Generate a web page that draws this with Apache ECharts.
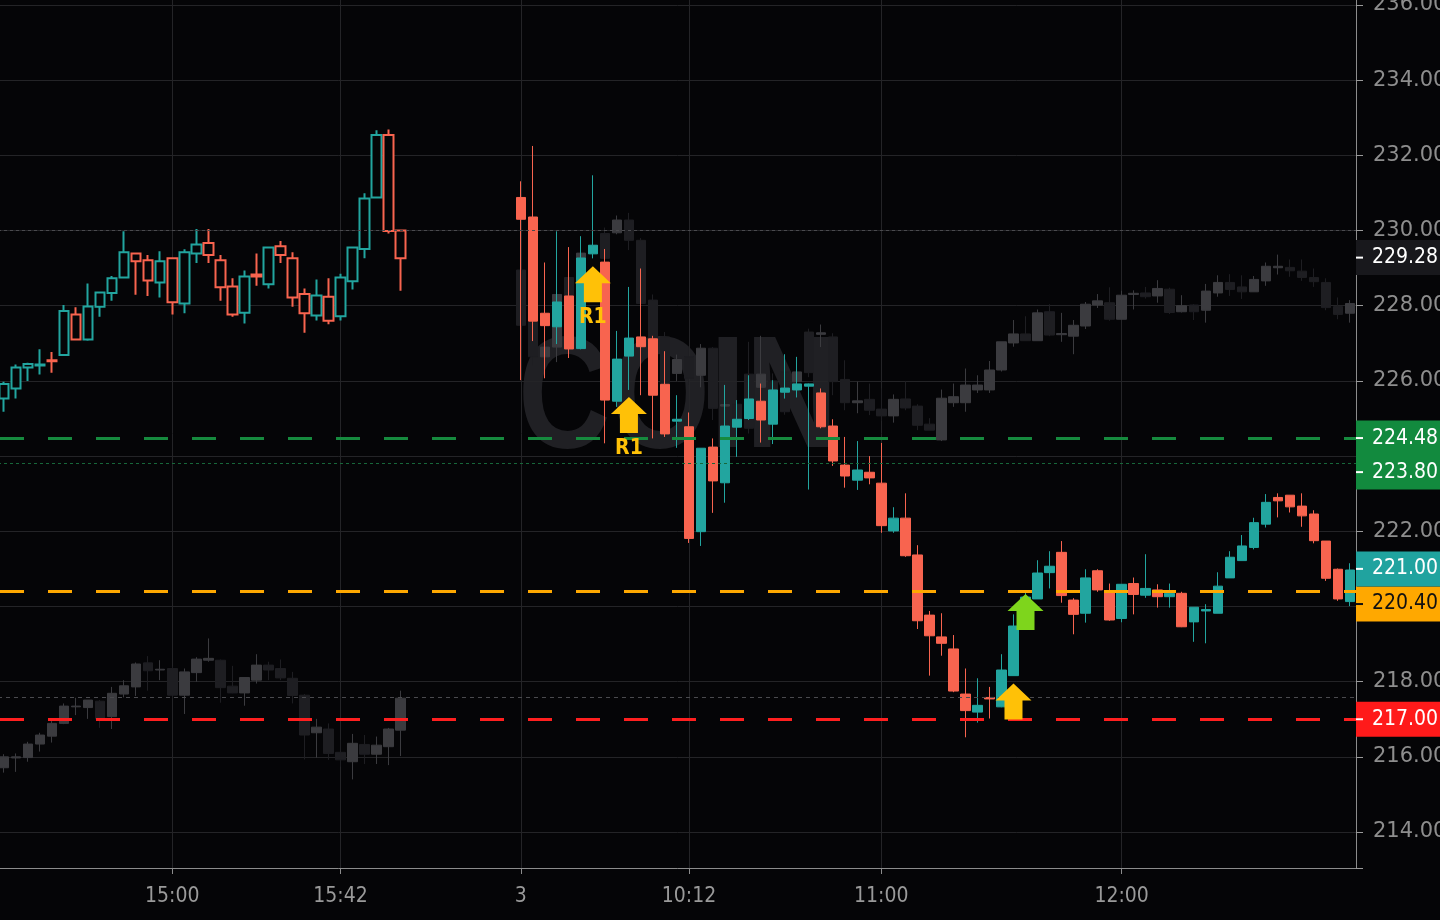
<!DOCTYPE html>
<html><head><meta charset="utf-8">
<script src="https://cdn.jsdelivr.net/npm/echarts@6/dist/echarts.min.js"></script>
<style>html,body{margin:0;padding:0;background:#050507;}#c{width:1440px;height:920px;}</style>
</head><body><div id="c"></div><script>
// ---------- categories (3-minute bars) ----------
const prevDayTimes = ['14:18','14:21','14:24','14:27','14:30','14:33','14:36','14:39','14:42','14:45','14:48','14:51','14:54','14:57',
 '15:00','15:03','15:06','15:09','15:12','15:15','15:18','15:21','15:24','15:27','15:30','15:33','15:36','15:39','15:42','15:45','15:48','15:51','15:54','15:57'];
const gapTimes = ['16:00','16:03','16:06','16:09','16:12','16:15','16:18','16:21','16:24'];
const day3Times = ['09:30','09:33','09:36','09:39','09:42','09:45','09:48','09:51','09:54','09:57',
 '10:00','10:03','10:06','10:09','10:12','10:15','10:18','10:21','10:24','10:27','10:30','10:33','10:36','10:39','10:42','10:45','10:48','10:51','10:54','10:57',
 '11:00','11:03','11:06','11:09','11:12','11:15','11:18','11:21','11:24','11:27','11:30','11:33','11:36','11:39','11:42','11:45','11:48','11:51','11:54','11:57',
 '12:00','12:03','12:06','12:09','12:12','12:15','12:18','12:21','12:24','12:27','12:30','12:33','12:36','12:39','12:42','12:45','12:48','12:51','12:54','12:57'];
const tickLabels = {'15:00':'15:00','15:42':'15:42','09:30':'3','10:12':'10:12','11:00':'11:00','12:00':'12:00'};

// ---------- main symbol candles [open, close, low, high] ----------
const prevDayOHLC = [
 [225.53,225.92,225.18,225.98],[225.80,226.36,225.53,226.44],[226.36,226.45,226.00,226.48],[226.41,226.44,226.17,226.84],
 [226.55,226.52,226.22,226.77],[226.69,227.86,226.68,228.02],[227.77,227.10,227.08,227.96],[227.10,227.98,227.07,228.59],
 [227.97,228.35,227.71,228.37],[228.34,228.73,228.13,228.79],[228.75,229.42,228.74,229.98],[229.39,229.18,228.29,229.40],
 [229.21,228.67,228.26,229.35],[228.62,229.18,228.22,229.45],[229.26,228.09,227.77,229.26],[228.06,229.42,227.80,229.50],
 [229.39,229.63,229.14,230.04],[229.67,229.35,229.14,230.04],[229.21,228.49,228.13,229.35],[228.51,227.77,227.71,228.73],
 [227.81,228.78,227.53,228.94],[228.83,228.78,228.53,229.39],[228.57,229.55,228.46,229.55],[229.58,229.35,229.14,229.72],
 [229.26,228.22,227.97,229.42],[228.31,227.80,227.28,228.46],[227.74,228.27,227.61,228.70],[228.24,227.60,227.51,228.73],
 [227.72,228.75,227.61,228.85],[228.65,229.55,228.43,229.55],[229.51,230.85,229.26,230.99],[230.88,232.54,230.88,232.67],
 [232.54,229.99,229.92,232.69],[230.00,229.26,228.40,230.00]];
const day3OHLC = [
 [230.88,230.30,226.02,231.31],[230.36,227.59,227.06,232.25],[227.80,227.47,226.07,229.15],[227.44,228.10,226.98,229.98],
 [228.26,226.85,226.61,229.56],[226.86,229.27,226.84,229.85],[229.38,229.61,229.26,231.47],[229.16,225.49,224.34,229.51],
 [225.46,226.58,225.31,227.33],[226.66,227.14,225.76,228.50],[227.17,226.91,225.62,228.99],[227.12,225.62,224.47,227.20],
 [225.91,224.59,224.51,226.79],[224.93,224.98,224.22,225.62],[224.78,221.81,221.69,225.16],[221.99,224.21,221.61,224.21],
 [224.24,223.34,222.49,224.47],[223.29,224.80,222.76,225.89],[224.77,224.98,223.98,225.49],[225.00,225.52,224.96,226.15],
 [225.46,224.96,224.36,225.93],[224.85,225.76,224.32,226.02],[225.70,225.81,225.53,226.71],[225.76,225.92,225.56,226.64],
 [225.86,225.92,223.11,225.93],[225.68,224.78,224.74,225.80],[224.80,223.87,223.74,224.98],[223.76,223.47,223.16,224.51],
 [223.36,223.63,223.10,224.40],[223.57,223.42,223.25,224.00],[223.28,222.15,221.96,224.35],[222.01,222.35,221.96,222.64],
 [222.35,221.35,221.32,223.01],[221.37,219.62,219.40,221.63],[219.77,219.22,218.16,219.88],[219.19,219.02,218.69,219.82],
 [218.87,217.75,217.72,219.24],[217.67,217.23,216.52,218.35],[217.19,217.37,216.91,218.09],[217.58,217.54,217.02,217.86],
 [217.33,218.31,217.32,218.73],[218.16,219.48,218.16,219.79],[219.48,220.25,219.40,220.39],[220.20,220.89,220.20,221.23],
 [220.90,221.07,220.48,221.47],[221.44,220.29,220.10,221.74],[220.17,219.79,219.26,220.22],[219.82,220.76,219.57,220.99],
 [220.95,220.44,220.39,220.99],[220.41,219.64,219.62,220.61],[219.68,220.59,219.58,220.59],[220.61,220.32,219.79,220.77],
 [220.30,220.48,220.23,221.39],[220.44,220.26,219.97,220.59],[220.26,220.35,219.97,220.61],[220.35,219.46,219.45,220.39],
 [219.59,219.98,219.06,219.98],[219.88,219.92,219.02,220.06],[219.82,220.54,219.82,220.91],[220.76,221.31,220.76,221.47],
 [221.22,221.61,221.22,221.90],[221.57,222.23,221.52,222.36],[222.19,222.77,222.10,222.99],[222.90,222.81,222.37,223.01],
 [222.96,222.65,222.50,222.96],[222.67,222.41,222.12,223.01],[222.46,221.75,221.68,222.56],[221.74,220.75,220.68,221.74],
 [220.99,220.20,220.15,221.01],[220.13,220.97,220.01,221.15]];

// ---------- overlaid comparison candles (grey ghost) [open, close, low, high] ----------
const prevDayGhost = [
 [215.71,216.00,215.58,216.07],[215.97,216.00,215.60,216.09],[215.98,216.34,215.87,216.40],[216.34,216.58,216.14,216.64],
 [216.55,216.89,216.38,217.00],[216.89,217.35,216.87,217.42],[217.33,217.35,217.11,217.57],[217.31,217.51,217.01,217.51],
 [217.48,217.01,216.77,217.51],[217.07,217.69,216.74,217.86],[217.67,217.89,217.58,218.04],[217.86,218.47,217.62,218.51],
 [218.50,218.29,217.76,218.68],[218.31,218.33,218.04,218.57],[218.35,217.64,217.56,218.40],[217.64,218.26,217.14,218.35],
 [218.24,218.60,218.00,218.65],[218.57,218.62,218.53,219.15],[218.57,217.84,217.44,218.59],[217.88,217.70,217.69,218.42],
 [217.70,218.11,217.36,218.11],[218.04,218.44,217.95,218.73],[218.44,218.31,218.04,218.53],[218.35,218.10,218.04,218.59],
 [218.09,217.63,217.42,218.26],[217.64,216.58,215.93,217.67],[216.64,216.79,215.98,217.01],[216.74,216.09,215.92,216.89],
 [216.12,215.92,215.74,216.45],[215.87,216.36,215.40,216.61],[216.33,216.07,215.81,216.58],[216.07,216.31,215.81,216.54],
 [216.27,216.74,215.78,216.77],[216.71,217.56,216.02,217.76]];
const day3Ghost = [
 [228.95,227.48,227.22,229.16],[227.57,226.64,226.42,227.60],[226.64,226.90,226.55,227.09],[226.90,228.30,226.50,228.40],
 [228.75,228.24,228.10,228.90],[228.24,229.40,228.20,229.45],[229.40,229.60,229.30,229.70],[229.92,229.26,229.10,230.08],
 [229.94,230.28,229.90,230.40],[230.28,229.74,229.48,230.47],[229.74,228.06,227.90,229.80],[228.15,227.09,226.90,228.30],
 [227.17,225.93,225.60,227.30],[226.20,226.57,226.00,226.70],[226.64,226.07,225.90,226.90],[226.15,226.87,225.83,226.98],
 [226.87,225.27,224.96,226.90],[225.33,225.37,225.00,225.90],[225.38,224.96,224.60,225.60],[226.18,224.74,224.60,227.04],
 [225.83,226.18,225.70,227.20],[226.00,225.60,225.40,226.20],[226.24,225.18,225.10,226.50],[225.98,226.24,225.90,226.50],
 [227.30,226.22,226.10,227.39],[227.24,227.28,226.90,227.50],[227.17,225.98,225.62,227.27],[226.04,225.42,225.22,226.55],
 [225.42,225.47,225.14,225.98],[225.51,225.22,225.09,225.93],[225.25,225.07,224.94,225.80],[225.07,225.51,224.89,225.64],
 [225.52,225.28,225.22,226.00],[225.33,224.82,224.69,225.38],[224.85,224.69,224.69,225.01],[224.43,225.54,224.40,225.77],
 [225.42,225.58,225.31,225.93],[225.42,225.89,225.18,226.33],[225.76,225.89,225.68,226.15],[225.76,226.29,225.68,226.53],
 [226.29,227.04,226.25,227.04],[227.01,227.25,226.91,227.62],[227.25,227.07,227.07,227.72],[227.07,227.81,227.07,227.90],
 [227.84,227.22,227.19,228.04],[227.23,227.26,227.04,227.81],[227.19,227.48,226.71,227.62],[227.46,228.04,227.38,228.10],
 [228.02,228.13,227.94,228.31],[228.08,227.64,227.60,228.49],[227.64,228.28,227.64,228.40],[228.30,228.33,227.90,228.41],
 [228.34,228.24,228.19,228.50],[228.26,228.46,228.08,228.68],[228.44,227.82,227.78,228.48],[227.84,228.00,227.82,228.28],
 [228.02,227.84,227.62,228.04],[227.88,228.39,227.55,228.58],[228.34,228.62,228.24,228.81],[228.62,228.43,228.26,228.84],
 [228.50,228.37,228.18,228.81],[228.37,228.70,228.37,228.79],[228.66,229.05,228.53,229.15],[229.01,229.05,228.83,229.36],
 [229.02,228.93,228.77,229.23],[228.92,228.75,228.66,229.23],[228.75,228.64,228.50,228.99],[228.62,227.95,227.88,228.73],
 [227.98,227.77,227.64,228.22],[227.80,228.06,227.55,228.15]];

// ---------- price levels and signal markers ----------
const levelPrices = {pivotGreen: 224.48, prevClose: 223.80, pivotOrange: 220.40, support: 217.00, grey1: 230.00, grey2: 217.58, last: 221.00, compare: 229.28};
const signalTimes = ['09:48','09:57','11:33','11:36'];
const signalPrices = [229.05, 225.57, 217.95, 220.33];
const signalTexts = ['R1','R1','',''];

// ---------- styling ----------
const UP = '#22a59f', DN = '#f8644f', BG = '#050507';
const G_UP = '#3b3b3f', G_DN = '#1e1e22';
const NARROW = '"Liberation Sans Narrow","DejaVu Sans Condensed","Roboto Condensed","Liberation Sans",sans-serif';
const AXFONT = '"DejaVu Sans","Noto Sans",sans-serif';

const categories = prevDayTimes.concat(gapTimes, day3Times);
const gapFill = gapTimes.map(() => '-');
const mainData = prevDayOHLC.map(v => ({value: v, itemStyle: {color: BG, color0: BG, borderWidth: 2}}))
  .concat(gapFill, day3OHLC);
const ghostData = prevDayGhost.concat(gapFill, day3Ghost);

const isLabel = (i, v) => tickLabels[v] !== undefined;

function badge(text, bg, fg, dy) {
  return {
    show: true, position: 'end', distance: 0, offset: [0, dy || 0],
    formatter: '{t|}{v|' + text + '}',
    backgroundColor: bg, padding: [7, 12, 7, 0],
    rich: {
      t: {width: 7, height: 2, backgroundColor: fg, verticalAlign: 'middle'},
      v: {fontSize: 21, lineHeight: 21, color: fg, fontFamily: NARROW, padding: [0, 0, 0, 9], verticalAlign: 'middle'}
    }
  };
}
const noLabel = {show: false};
const levelLines = [
  {yAxis: levelPrices.grey1, lineStyle: {color: '#4a4a4e', width: 1, type: [3, 3]}, label: noLabel},
  {yAxis: levelPrices.grey2, lineStyle: {color: '#4a4a4e', width: 1, type: [4, 4]}, label: noLabel},
  {yAxis: levelPrices.prevClose, lineStyle: {color: '#17673a', width: 1, type: [3, 3]}, label: badge('223.80', '#128a3e', '#ffffff', 8.5)},
  {yAxis: levelPrices.pivotGreen, lineStyle: {color: '#168a3e', width: 3, type: [24, 24], dashOffset: -2}, label: badge('224.48', '#128a3e', '#ffffff', 0)},
  {yAxis: levelPrices.pivotOrange, lineStyle: {color: '#ffa800', width: 3, type: [24, 24], dashOffset: -2}, label: badge('220.40', '#ffa800', '#111111', 12.6)},
  {yAxis: levelPrices.support, lineStyle: {color: '#ff1f1f', width: 3, type: [24, 24], dashOffset: -2}, label: badge('217.00', '#ff1a1a', '#ffffff', 0)},
  {yAxis: levelPrices.last, lineStyle: {color: 'transparent', width: 0}, label: badge('221.00', '#20a39f', '#ffffff', 0)},
  {yAxis: levelPrices.compare, lineStyle: {color: 'transparent', width: 0}, label: badge('229.28', '#18181c', '#ffffff', 0)}
];

const ARROW = 'path://M18,0 L36,17 L27,17 L27,36 L9,36 L9,17 L0,17 Z';
const arrowColors = ['#ffc107', '#ffc107', '#ffc107', '#7ed51c'];
const markers = signalTimes.map((t, i) => ({
  coord: [t, signalPrices[i]],
  itemStyle: {color: arrowColors[i]},
  label: signalTexts[i] ? {show: true, formatter: signalTexts[i], position: 'bottom', distance: 5, color: '#ffc107', fontSize: 21, fontWeight: 'bold', fontFamily: NARROW} : {show: false}
}));

const chart = echarts.init(document.getElementById('c'), null, {renderer: 'canvas'});
chart.setOption({
  animation: false,
  backgroundColor: BG,
  grid: {left: -2, right: 84, top: -2, bottom: 52, containLabel: false, outerBoundsMode: 'none'},
  graphic: [{
    type: 'text', x: 678, y: 403, scaleX: 0.8, z: 0, silent: true,
    style: {text: 'COIN', fill: '#202024', fontSize: 160, fontWeight: 'bold', fontFamily: '"Liberation Sans",Arial,sans-serif', align: 'center', verticalAlign: 'middle'}
  }],
  xAxis: {
    type: 'category', data: categories, boundaryGap: true,
    axisLine: {show: true, lineStyle: {color: '#8c8c8c', width: 1}},
    axisTick: {show: true, interval: isLabel, alignWithLabel: true, length: 6, lineStyle: {color: '#8c8c8c'}},
    axisLabel: {interval: isLabel, formatter: v => tickLabels[v] || '', color: '#9a9a9a', fontSize: 21, fontFamily: NARROW, margin: 18},
    splitLine: {show: true, interval: isLabel, alignWithLabel: true, lineStyle: {color: '#242427', width: 1}}
  },
  yAxis: {
    type: 'value', position: 'right', scale: true, min: 213.043, max: 236.186,
    splitNumber: 12, minInterval: 2, maxInterval: 2,
    axisLine: {show: true, lineStyle: {color: '#8c8c8c', width: 1}},
    axisTick: {show: true, length: 7, lineStyle: {color: '#9a9a9a'}},
    axisLabel: {color: '#8e8e8e', fontSize: 21, fontFamily: AXFONT, margin: 17,
      formatter: v => (Math.abs(v / 2 - Math.round(v / 2)) < 1e-6 ? v.toFixed(2) : '')},
    splitLine: {show: true, lineStyle: {color: '#242427', width: 1}}
  },
  series: [
    {
      name: 'compare', type: 'candlestick', z: 1, barWidth: 10, data: ghostData, silent: true,
      itemStyle: {color: G_UP, color0: G_DN, borderColor: G_UP, borderColor0: G_DN, borderWidth: 1}
    },
    {
      name: 'levels', type: 'line', z: 1.5, data: [], silent: true,
      markLine: {symbol: ['none', 'none'], silent: true, animation: false, data: levelLines}
    },
    {
      name: 'COIN', type: 'candlestick', z: 2, barWidth: 10, data: mainData,
      itemStyle: {color: UP, color0: DN, borderColor: UP, borderColor0: DN, borderWidth: 1},
      markPoint: {symbol: ARROW, symbolSize: [36, 36], symbolOffset: [0, 18], silent: true, animation: false, data: markers}
    }
  ]
});
</script></body></html>
